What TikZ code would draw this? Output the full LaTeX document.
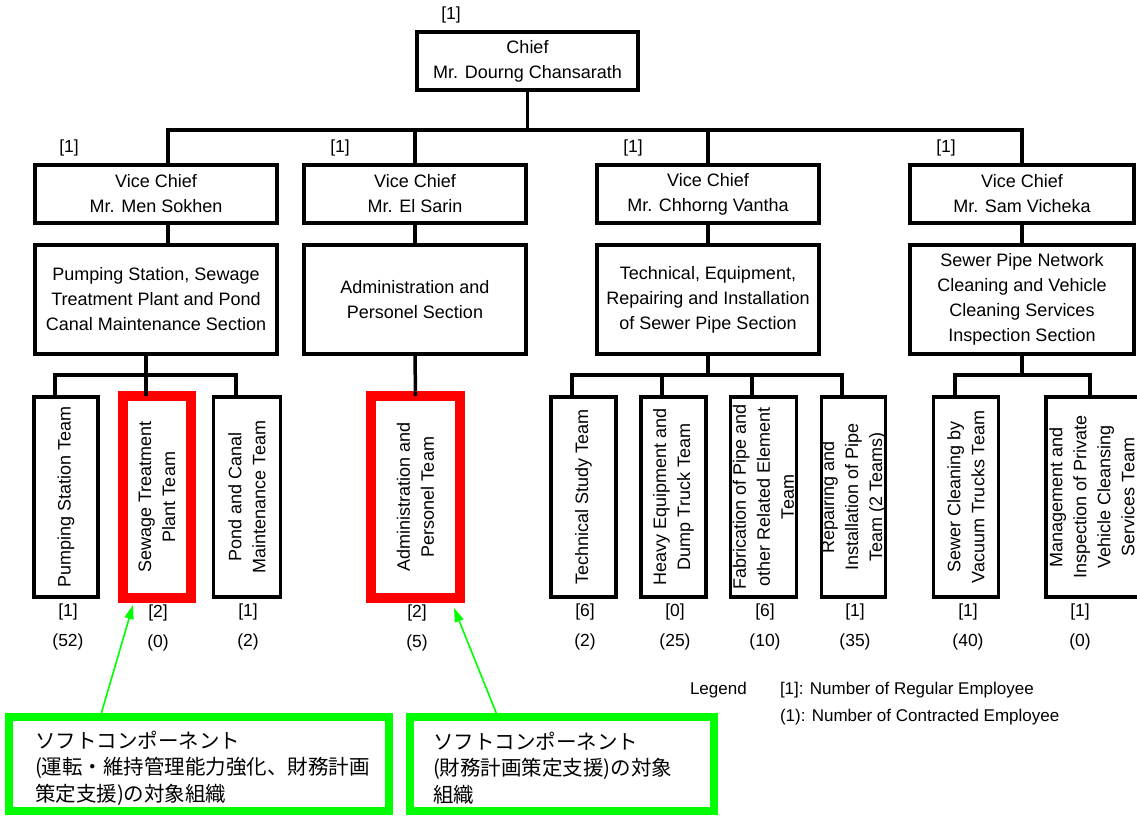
\documentclass[tikz,border=0pt]{standalone}
\usepackage{fontspec}
\setmainfont{Liberation Sans}
\newfontfamily\jpfont{Noto Sans CJK JP}
\usetikzlibrary{arrows.meta,calc}
\definecolor{markred}{RGB}{255,0,0}
\definecolor{markgreen}{RGB}{0,255,0}
\begin{document}
\begin{tikzpicture}[x=1pt, y=-1pt,
  every node/.style={inner sep=0pt, outer sep=0pt},
  orgbox/.style={draw, line width=3.5pt, fill=white, align=center, font=\fontsize{18}{25}\selectfont},
  teambox/.style={draw, line width=3.5pt, fill=white, minimum height=200pt},
  redbox/.style={draw=markred, line width=10.5pt, fill=white, minimum height=202pt},
  teamtext/.style={rotate=90, align=center, font=\fontsize{18}{24}\selectfont},
  count/.style={font=\fontsize{17.5}{20}\selectfont},
  link/.style={line width=3.5pt},
  softbox/.style={draw=markgreen, line width=8pt, fill=white, minimum height=94pt},
  softtext/.style={align=left, anchor=west, font=\jpfont\fontsize{20.5}{26.5}\selectfont},
  pointer/.style={draw=markgreen, line width=1.6pt, -{Triangle[length=14pt,width=9pt]}},
  legend/.style={anchor=west, font=\fontsize{17}{20}\selectfont}]

\clip (0,0) rectangle (1137,816);
\fill[white] (0,0) rectangle (1137,816);

% levels of the horizontal bars
\coordinate (barTop) at (0,130);
\coordinate (barTeam) at (0,375);

% chief
\node[orgbox, minimum width=221pt, minimum height=58pt] (chief) at (527.5,61) {Chief\\Mr. Dourng Chansarath};
\node[count] (chiefR) at ([shift={(34pt,17pt)}]chief.north west) {[1]};

% vice chiefs
\node[orgbox, minimum width=242pt, minimum height=58pt] (vc1) at (156,194) {Vice Chief\\Mr. Men Sokhen};
\node[orgbox, minimum width=222pt, minimum height=58pt] (vc2) at (415,194) {Vice Chief\\Mr. El Sarin};
\node[orgbox, minimum width=222pt, minimum height=58pt] (vc3) at (708,194) {Vice Chief\\Mr. Chhorng Vantha};
\node[orgbox, minimum width=224pt, minimum height=58pt] (vc4) at (1022,194) {Vice Chief\\Mr. Sam Vicheka};
\node[count] (vc1R) at ([shift={(34pt,17pt)}]vc1.north west) {[1]};
\node[count] (vc2R) at ([shift={(36pt,17pt)}]vc2.north west) {[1]};
\node[count] (vc3R) at ([shift={(36pt,17pt)}]vc3.north west) {[1]};
\node[count] (vc4R) at ([shift={(36pt,17pt)}]vc4.north west) {[1]};

% sections
\node[orgbox, minimum width=242pt, minimum height=109pt] (sec1) at (156,299.5) {Pumping Station, Sewage\\Treatment Plant and Pond\\Canal Maintenance Section};
\node[orgbox, minimum width=222pt, minimum height=109pt] (sec2) at (415,299.5) {Administration and\\Personel Section};
\node[orgbox, minimum width=222pt, minimum height=109pt] (sec3) at (708,299.5) {Technical, Equipment,\\Repairing and Installation\\of Sewer Pipe Section};
\node[orgbox, minimum width=224pt, minimum height=109pt] (sec4) at (1022,299.5) {Sewer Pipe Network\\Cleaning and Vehicle\\Cleaning Services\\Inspection Section};

% teams
\node[teambox, minimum width=64pt] (pump) at (66,497) {};
\node[redbox, minimum width=68pt] (sew) at (157,497) {};
\node[teambox, minimum width=67pt] (pond) at (247,497) {};
\node[redbox, minimum width=89pt] (adm) at (415.5,497) {};
\node[teambox, minimum width=65pt] (tech) at (583.5,497) {};
\node[teambox, minimum width=65pt] (heavy) at (673.5,497) {};
\node[teambox, minimum width=66pt] (fab) at (763.5,497) {};
\node[teambox, minimum width=64pt] (rep) at (853.5,497) {};
\node[teambox, minimum width=65pt] (sewer) at (966,497) {};
\node[teambox, minimum width=100pt] (mgmt) at (1096,497) {};

\node[teamtext] (pumpT) at (pump) {Pumping Station Team};
\node[teamtext] (sewT) at (sew) {Sewage Treatment\\Plant Team};
\node[teamtext] (pondT) at (pond) {Pond and Canal\\Maintenance Team};
\node[teamtext] (admT) at (adm) {Administration and\\Personel Team};
\node[teamtext] (techT) at (tech) {Technical Study Team};
\node[teamtext] (heavyT) at (heavy) {Heavy Equipment and\\Dump Truck Team};
\node[teamtext] (fabT) at (fab) {Fabrication of Pipe and\\other Related Element\\Team};
\node[teamtext] (repT) at (rep) {Repairing and\\Installation of Pipe\\Team (2 Teams)};
\node[teamtext] (sewerT) at (sewer) {Sewer Cleaning by\\Vacuum Trucks Team};
\node[teamtext] (mgmtT) at ([xshift=-4pt]mgmt.center) {Management and\\Inspection of Private\\Vehicle Cleansing\\Services Team};

% staff counts: [regular] and (contracted)
\foreach \t/\r/\c/\dx in {pump/1/52/2, sew/2/0/1, pond/1/2/1, adm/2/5/1.5, tech/6/2/1.5,
                          heavy/0/25/1.5, fab/6/10/1.5, rep/1/35/1.5, sewer/1/40/2, mgmt/1/0/-16}{
  \node[count] (\t R) at ([shift={(\dx pt,-15pt)}]\t.south) {[\r]};
  \node[count] (\t C) at ([shift={(\dx pt,-45pt)}]\t.south) {(\c)};
}

% chief to vice chiefs
\draw[link] (chief.south) -- (chief.south |- barTop);
\draw[link] ([xshift=12pt]vc1.north) |- (vc4.north |- barTop) -- (vc4.north);
\draw[link] (vc2.north) -- (vc2.north |- barTop);
\draw[link] (vc3.north) -- (vc3.north |- barTop);

% vice chiefs to sections
\draw[link] ([xshift=12pt]vc1.south) -- ([xshift=12pt]sec1.north);
\draw[link] (vc2.south) -- (sec2.north);
\draw[link] (vc3.south) -- (sec3.north);
\draw[link] (vc4.south) -- (sec4.north);

% sections to teams
\coordinate (pumpIn) at ([xshift=-11pt]pump.north);
\coordinate (sewIn) at ([xshift=-11pt]sew.north);
\coordinate (pondIn) at ([xshift=-11pt]pond.north);
\coordinate (techIn) at ([xshift=-11.5pt]tech.north);
\coordinate (heavyIn) at ([xshift=-11.5pt]heavy.north);
\coordinate (fabIn) at ([xshift=-11.5pt]fab.north);
\coordinate (repIn) at ([xshift=-11.5pt]rep.north);
\coordinate (sewerIn) at ([xshift=-11pt]sewer.north);
\coordinate (mgmtIn) at ([xshift=-6pt]mgmt.north);

\draw[link] (pumpIn) -- (pumpIn |- barTeam) -- (pondIn |- barTeam) -- (pondIn);
\draw[link] (sec1.south -| sewIn) -- (sewIn);

\draw[link] (sec2.south) -- (adm.north);

\draw[link] (techIn) -- (techIn |- barTeam) -- (repIn |- barTeam) -- (repIn);
\draw[link] (heavyIn) -- (heavyIn |- barTeam);
\draw[link] (fabIn) -- (fabIn |- barTeam);
\draw[link] (sec3.south) -- (sec3.south |- barTeam);

\draw[link] (sewerIn) -- (sewerIn |- barTeam) -- (mgmtIn |- barTeam) -- (mgmtIn);
\draw[link] (sec4.south) -- (sec4.south |- barTeam);

% legend
\node[legend] (leg) at (690,690) {Legend};
\node[legend] (legA) at (780,690) {[1]: Number of Regular Employee};
\node[legend] (legB) at (780,717) {(1): Number of Contracted Employee};

% soft component target organisations
\node[softbox, minimum width=380pt] (soft1) at (199,764) {};
\node[softbox, minimum width=304pt] (soft2) at (562,764) {};
\node[softtext] (soft1T) at (35,768) {ソフトコンポーネント\\(運転・維持管理能力強化、財務計画\\策定支援)の対象組織};
\node[softtext] (soft2T) at (433,768) {ソフトコンポーネント\\(財務計画策定支援)の対象\\組織};

\draw[pointer] ($(soft1.north west)!0.24!(soft1.north east)$) -- ([shift={(10pt,-7pt)}]sew.south west);
\draw[pointer] ($(soft2.north west)!0.289!(soft2.north east)$) -- ([shift={(-6pt,-10pt)}]adm.south east);

\end{tikzpicture}
\end{document}
